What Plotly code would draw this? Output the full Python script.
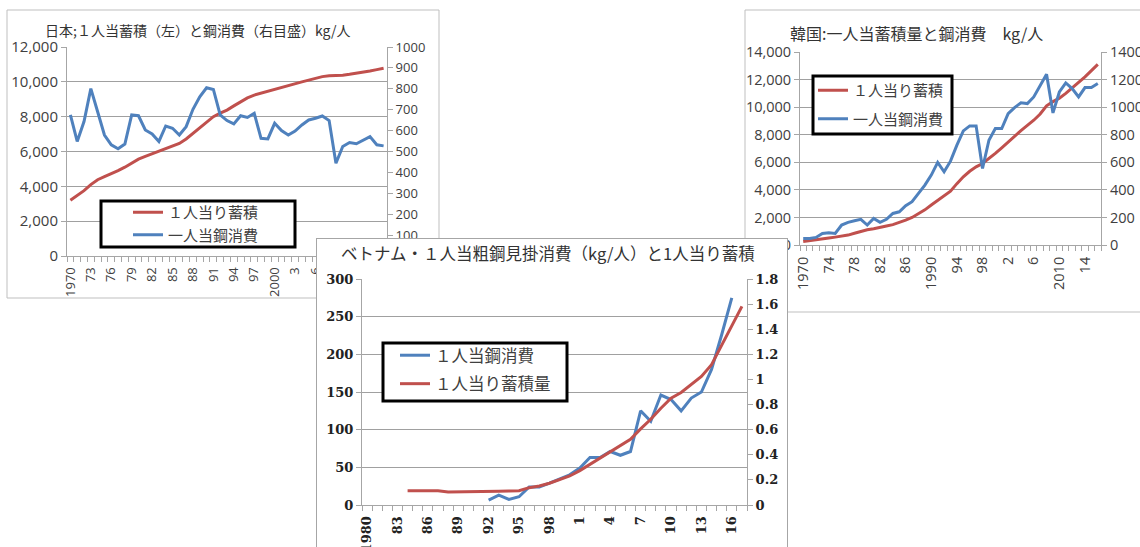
import plotly.graph_objects as go

W, H = 1140, 547
def X(px): return px / W
def Y(py): return 1 - py / H

# ---------------- data ----------------
jp_years = list(range(1970, 2017))
jp_stock = [3200, 3450, 3750, 4100, 4380, 4560, 4720, 4900, 5100, 5330,
            5560, 5720, 5870, 6030, 6160, 6300, 6460, 6720, 7050, 7380,
            7720, 8000, 8200, 8380, 8620, 8860, 9080, 9240, 9350, 9450,
            9600, 9700, 9800, 9900, 10000, 10100, 10200, 10300, 10350, 10350,
            10380, 10430, 10480, 10550, 10620, 10700, 10780]
jp_steel = [675, 548, 643, 801, 690, 579, 532, 513, 536, 675,
            671, 603, 584, 548, 622, 611, 579, 619, 702, 762,
            805, 797, 675, 648, 632, 671, 663, 683, 563, 560,
            635, 600, 579, 598, 627, 651, 659, 670, 648, 444,
            524, 543, 537, 556, 571, 532, 527]
jp_tickvals = list(range(1970, 2016, 3))
jp_ticktext = ["1970", "73", "76", "79", "82", "85", "88", "91", "94", "97",
               "2000", "3", "6", "9", "12", "15"]
jp_r_vals = [100, 200, 300, 400, 500, 600, 700, 800, 900, 1000]
jp_r_text = ["100", "200", "300", "400", "500", "600", "700", "800", "900", "1000"]

kr_years = list(range(1970, 2017))
kr_stock = [250, 300, 350, 420, 500, 570, 640, 720, 850, 980,
            1100, 1180, 1260, 1380, 1480, 1620, 1800, 2000, 2250, 2550,
            2900, 3250, 3550, 3900, 4450, 4950, 5350, 5670, 5910, 6250,
            6650, 7050, 7480, 7900, 8300, 8680, 9050, 9500, 10100, 10400,
            10650, 11000, 11380, 11800, 12200, 12650, 13100]
kr_steel = [48, 48, 55, 84, 89, 84, 145, 164, 176, 186,
            145, 193, 164, 186, 229, 241, 285, 314, 374, 434,
            507, 599, 531, 608, 724, 828, 864, 864, 555, 760,
            845, 845, 953, 997, 1031, 1026, 1074, 1159, 1238, 958,
            1110, 1176, 1135, 1074, 1142, 1142, 1171]
kr_tickvals = list(range(1970, 2016, 4))
kr_ticktext = ["1970", "74", "78", "82", "86", "1990", "94", "98", "2", "6",
               "2010", "14"]

vn_years = list(range(1980, 2018))
vn_steel = [None] * 12 + [6.6, 13, 7.5, 11, 24, 24, 29, 35, 40, 49,
                          63, 63, 71, 66, 71, 125, 111, 146, 140, 125,
                          142, 150, 180, 226, 275] + [None]
vn_stock = [None] * 4 + [0.114, 0.114, 0.114, 0.114, 0.104, 0.104, 0.104, 0.106,
                         0.106, 0.11, 0.112, 0.114, 0.138, 0.152, 0.173, 0.2,
                         0.231, 0.274, 0.324, 0.372, 0.425, 0.479, 0.524, 0.606,
                         0.683, 0.771, 0.851, 0.896, 0.957, 1.024, 1.117, 1.276,
                         1.436, 1.582]
vn_tickvals = list(range(1980, 2018, 3))
vn_ticktext = ["1980", "83", "86", "89", "92", "95", "98", "1", "4", "7",
               "10", "13", "16"]
vn_r_vals = [0, 0.2, 0.4, 0.6, 0.8, 1.0, 1.2, 1.4, 1.6, 1.8]
vn_r_text = ["0", "0.2", "0.4", "0.6", "0.8", "1", "1.2", "1.4", "1.6", "1.8"]

RED = "#C0504D"
BLUE = "#4F81BD"
GRID = "#a0a0a0"
AX = "#a6a6a6"
JP_FONT = "Noto Sans CJK JP"
NUM_FONT = "Open Sans"
SERIF = "DejaVu Serif"

fig = go.Figure()

# Japan
fig.add_trace(go.Scatter(x=jp_years, y=jp_stock, mode="lines", name="１人当り蓄積",
                         line=dict(color=RED, width=3), xaxis="x", yaxis="y",
                         legend="legend", legendgroup="a"))
fig.add_trace(go.Scatter(x=jp_years, y=jp_steel, mode="lines", name="一人当鋼消費",
                         line=dict(color=BLUE, width=3), xaxis="x", yaxis="y2",
                         legend="legend", legendgroup="b"))
# Korea
fig.add_trace(go.Scatter(x=kr_years, y=kr_stock, mode="lines", name="１人当り蓄積",
                         line=dict(color=RED, width=3), xaxis="x2", yaxis="y3",
                         legend="legend2", legendgroup="c"))
fig.add_trace(go.Scatter(x=kr_years, y=kr_steel, mode="lines", name="一人当鋼消費",
                         line=dict(color=BLUE, width=3), xaxis="x2", yaxis="y4",
                         legend="legend2", legendgroup="d"))
# cover panel (empty) for the front chart
fig.add_trace(go.Scatter(x=[None], y=[None], mode="lines", showlegend=False,
                         hoverinfo="skip", xaxis="x3", yaxis="y5"))
# Vietnam
fig.add_trace(go.Scatter(x=vn_years, y=vn_steel, mode="lines", name="１人当鋼消費",
                         line=dict(color=BLUE, width=3), xaxis="x4", yaxis="y6",
                         legend="legend3", legendgroup="e"))
fig.add_trace(go.Scatter(x=vn_years, y=vn_stock, mode="lines", name="１人当り蓄積量",
                         line=dict(color=RED, width=3), xaxis="x4", yaxis="y7",
                         legend="legend3", legendgroup="f"))

def xcat(domain, anchor, rng, tv, tt, font):
    return dict(domain=domain, anchor=anchor, range=rng, tickmode="array",
                tickvals=tv, ticktext=tt, tickangle=-90, ticks="outside",
                ticklen=5, tickcolor="rgba(0,0,0,0)",
                minor=dict(tickmode="linear", tick0=rng[0], dtick=1, ticks="outside",
                           ticklen=5, tickcolor=AX, showgrid=False),
                showline=True, linecolor=AX, linewidth=1, showgrid=False,
                zeroline=False, tickfont=font, fixedrange=True)

def yleft(domain, anchor, rng, dtick, font, fmt=","):
    return dict(domain=domain, anchor=anchor, range=rng, dtick=dtick, tick0=0,
                tickformat=fmt, ticks="outside", ticklen=5, tickcolor=AX,
                showline=True, linecolor=AX, showgrid=True, gridcolor=GRID,
                gridwidth=1, zeroline=False, tickfont=font, fixedrange=True)

def yright(overlay, anchor, rng, font, **kw):
    d = dict(overlaying=overlay, anchor=anchor, side="right", range=rng,
             ticks="outside", ticklen=5, tickcolor=AX, showline=True,
             linecolor=AX, showgrid=False, zeroline=False, tickfont=font,
             fixedrange=True)
    d.update(kw)
    return d

jp_font = dict(family=NUM_FONT, size=15, color="#404040")
jp_font_r = dict(family=NUM_FONT, size=13, color="#404040")
jp_font_x = dict(family=NUM_FONT, size=13, color="#404040")
kr_font = dict(family=NUM_FONT, size=14.5, color="#404040")
vn_font = dict(family=SERIF, size=13, color="#222222", weight="bold")

fig.update_layout(
    width=W, height=H, margin=dict(l=0, r=0, t=0, b=0, pad=0),
    paper_bgcolor="white", plot_bgcolor="white", template="none",
    xaxis=xcat([X(67), X(387)], "y", [1969.5, 2016.5], jp_tickvals, jp_ticktext, jp_font_x),
    yaxis=yleft([Y(256), Y(47)], "x", [0, 12000], 2000, jp_font),
    yaxis2=yright("y", "x", [0, 1000], jp_font_r, tickmode="array",
                  tickvals=jp_r_vals, ticktext=jp_r_text),
    xaxis2=xcat([X(800), X(1101)], "y3", [1969.5, 2016.5], kr_tickvals, kr_ticktext, kr_font),
    yaxis3=yleft([Y(245), Y(52)], "x2", [0, 14000], 2000, kr_font),
    yaxis4=yright("y3", "x2", [0, 1400], kr_font, dtick=200, tick0=0),
    xaxis3=dict(domain=[X(317), X(787)], anchor="y5", range=[0, 1], side="top",
                showline=True, linecolor=AX, linewidth=1, showgrid=False,
                zeroline=False, showticklabels=False, ticks="", fixedrange=True),
    yaxis5=dict(domain=[0, Y(239)], anchor="x3", range=[0, 1], showline=True,
                mirror=True, linecolor=AX, linewidth=1, showgrid=False,
                zeroline=False, showticklabels=False, ticks="", fixedrange=True),
    xaxis4=xcat([X(362), X(747)], "y6", [1979.5, 2017.5], vn_tickvals, vn_ticktext, vn_font),
    yaxis6=yleft([Y(505), Y(279)], "x4", [0, 300], 50, vn_font, fmt=""),
    yaxis7=yright("y6", "x4", [0, 1.8], vn_font, tickmode="array",
                  tickvals=vn_r_vals, ticktext=vn_r_text),
    legend=dict(x=X(128), y=Y(196), xanchor="left", yanchor="top",
                bgcolor="rgba(0,0,0,0)", borderwidth=0, tracegroupgap=0,
                font=dict(family=JP_FONT, size=15, color="#404040")),
    legend2=dict(x=X(813), y=Y(74), xanchor="left", yanchor="top",
                 bgcolor="rgba(0,0,0,0)", borderwidth=0, tracegroupgap=6,
                 font=dict(family=JP_FONT, size=15, color="#404040")),
    legend3=dict(x=X(395), y=Y(338), xanchor="left", yanchor="top",
                 bgcolor="rgba(0,0,0,0)", borderwidth=0, tracegroupgap=4,
                 font=dict(family=JP_FONT, size=16.5, color="#404040")),
    showlegend=True,
)

shapes = [
    # panel borders (below subplots so the front panel hides them)
    dict(type="rect", xref="paper", yref="paper", x0=X(7), x1=X(439), y0=Y(298), y1=Y(10),
         line=dict(color="#bfbfbf", width=1), fillcolor="rgba(0,0,0,0)", layer="below"),
    dict(type="rect", xref="paper", yref="paper", x0=X(745), x1=X(1146), y0=Y(312), y1=Y(10),
         line=dict(color="#bfbfbf", width=1), fillcolor="rgba(0,0,0,0)", layer="below"),
    # legend boxes
    dict(type="rect", xref="paper", yref="paper", x0=X(101), x1=X(295), y0=Y(247), y1=Y(201),
         line=dict(color="black", width=3), fillcolor="white", layer="above"),
    dict(type="rect", xref="paper", yref="paper", x0=X(813), x1=X(952), y0=Y(134), y1=Y(76),
         line=dict(color="black", width=3), fillcolor="white", layer="above"),
    dict(type="rect", xref="paper", yref="paper", x0=X(383), x1=X(567), y0=Y(401), y1=Y(343),
         line=dict(color="black", width=3), fillcolor="white", layer="above"),
]
fig.update_layout(shapes=shapes)

fig.update_layout(annotations=[
    dict(text="日本;１人当蓄積（左）と鋼消費（右目盛）kg/人", x=X(198), y=Y(30),
         xref="paper", yref="paper", showarrow=False, xanchor="center", yanchor="middle",
         font=dict(family=JP_FONT, size=14, color="#333333")),
    dict(text="韓国:一人当蓄積量と鋼消費　kg/人", x=X(916), y=Y(33),
         xref="paper", yref="paper", showarrow=False, xanchor="center", yanchor="middle",
         font=dict(family=JP_FONT, size=16, color="#333333")),
    dict(text="ベトナム・１人当粗鋼見掛消費（kg/人）と1人当り蓄積", x=X(548), y=Y(253),
         xref="paper", yref="paper", showarrow=False, xanchor="center", yanchor="middle",
         font=dict(family=JP_FONT, size=16.5, color="#333333")),
])

fig.write_html("out.html")
